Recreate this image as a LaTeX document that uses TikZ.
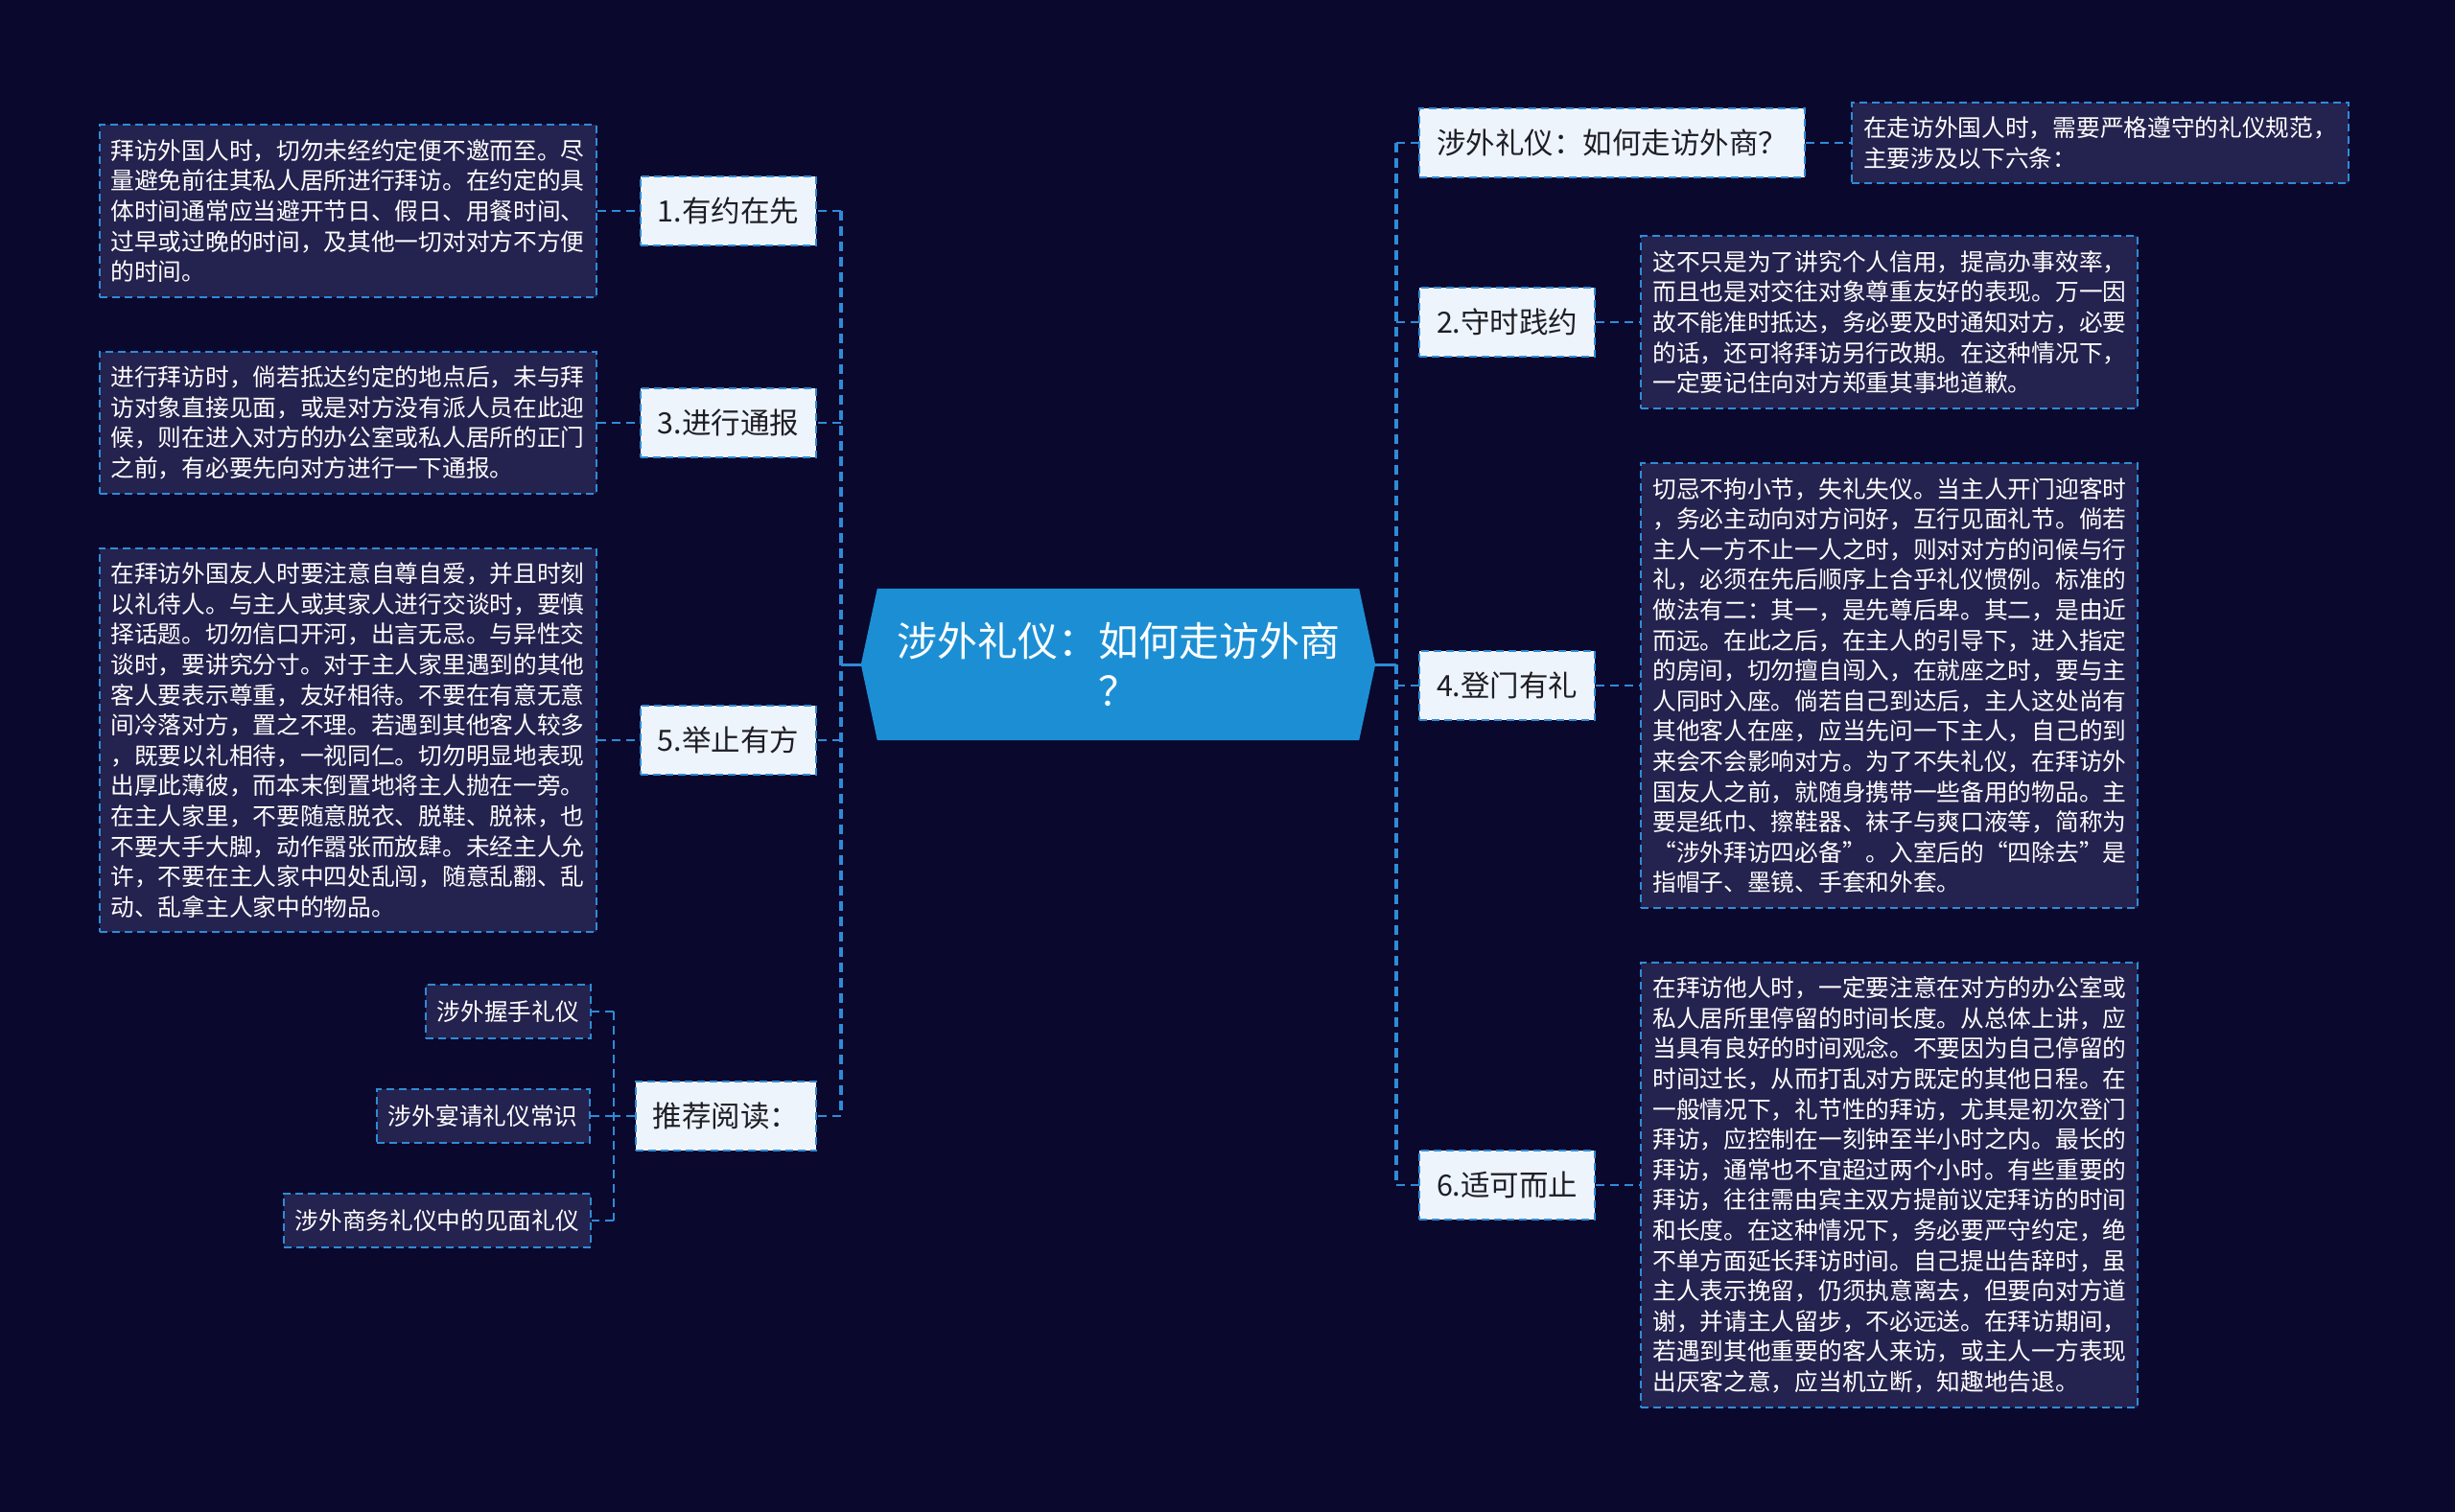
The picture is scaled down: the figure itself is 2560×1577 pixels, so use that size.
\documentclass[tikz,border=0pt]{standalone}
\usepackage{fontspec}
\setmainfont{Noto Sans CJK SC}
\usepackage{xcolor}
\usepackage{tikz}
\usetikzlibrary{positioning, backgrounds, calc}
\definecolor{bgnavy}{RGB}{11, 8, 46}
\definecolor{leafnavy}{RGB}{36, 34, 78}
\definecolor{linkblue}{RGB}{46, 140, 214}
\definecolor{hubblue}{RGB}{28, 143, 212}
\definecolor{branchwhite}{RGB}{238, 244, 252}
\definecolor{branchtext}{RGB}{30, 30, 36}

\begin{document}
\begin{tikzpicture}[x=1pt, y=-1pt,
    hub/.style={minimum width=536pt, minimum height=158pt, text=white,
                align=center, font=\fontsize{42}{52}\selectfont},
    branch/.style={draw=linkblue, fill=branchwhite, line width=2pt,
                   dash pattern=on 8pt off 5pt, text=branchtext,
                   minimum height=72pt, inner xsep=18pt,
                   font=\fontsize{30.5}{36}\selectfont},
    leaf/.style={draw=linkblue, fill=leafnavy, line width=2pt,
                 dash pattern=on 8pt off 5pt, text=white,
                 text width=494pt, align=left, inner xsep=12pt, inner ysep=15pt,
                 font=\fontsize{24.7}{31.6}\selectfont},
    sub/.style={draw=linkblue, fill=leafnavy, line width=2pt,
                dash pattern=on 8pt off 5pt, text=white,
                minimum height=56pt, inner xsep=12pt,
                font=\fontsize{24.7}{30}\selectfont},
    link/.style={draw=linkblue, line width=2.5pt, dash pattern=on 9pt off 6pt},
    trunk/.style={draw=linkblue, line width=3.5pt, dash pattern=on 10pt off 6pt},
]
\useasboundingbox (0,0) rectangle (2560,1577);

% Central topic
\node[hub] (hub) at (1166,693) {涉外礼仪：如何走访外商\\？};

% Left branches
\node[branch, anchor=east] (b1) at (852,220) {1.有约在先};
\node[branch, anchor=east] (b3) at (852,441) {3.进行通报};
\node[branch, anchor=east] (b5) at (852,772) {5.举止有方};
\node[branch, anchor=east] (bR) at (852,1164) {推荐阅读：};

\node[leaf, left=44pt of b1] (l1) {拜访外国人时，切勿未经约定便不邀而至。尽\\
量避免前往其私人居所进行拜访。在约定的具\\
体时间通常应当避开节日、假日、用餐时间、\\
过早或过晚的时间，及其他一切对对方不方便\\
的时间。};
\node[leaf, left=44pt of b3] (l3) {进行拜访时，倘若抵达约定的地点后，未与拜\\
访对象直接见面，或是对方没有派人员在此迎\\
候，则在进入对方的办公室或私人居所的正门\\
之前，有必要先向对方进行一下通报。};
\node[leaf, left=44pt of b5] (l5) {在拜访外国友人时要注意自尊自爱，并且时刻\\
以礼待人。与主人或其家人进行交谈时，要慎\\
择话题。切勿信口开河，出言无忌。与异性交\\
谈时，要讲究分寸。对于主人家里遇到的其他\\
客人要表示尊重，友好相待。不要在有意无意\\
间冷落对方，置之不理。若遇到其他客人较多\\
，既要以礼相待，一视同仁。切勿明显地表现\\
出厚此薄彼，而本末倒置地将主人抛在一旁。\\
在主人家里，不要随意脱衣、脱鞋、脱袜，也\\
不要大手大脚，动作嚣张而放肆。未经主人允\\
许，不要在主人家中四处乱闯，随意乱翻、乱\\
动、乱拿主人家中的物品。};

% Recommended reading
\node[sub, anchor=east] (s1) at (617,1055) {涉外握手礼仪};
\node[sub, left=46pt of bR] (s2) {涉外宴请礼仪常识};
\node[sub, anchor=east] (s3) at (617,1273) {涉外商务礼仪中的见面礼仪};

% Right branches
\node[branch, anchor=west] (bT) at (1479,149) {涉外礼仪：如何走访外商？};
\node[branch, anchor=west] (b2) at (1479,336) {2.守时践约};
\node[branch, anchor=west] (b4) at (1479,715) {4.登门有礼};
\node[branch, anchor=west] (b6) at (1479,1236) {6.适可而止};

\node[leaf, right=47pt of bT] (l0) {在走访外国人时，需要严格遵守的礼仪规范，\\
主要涉及以下六条：};
\node[leaf, right=46pt of b2] (l2) {这不只是为了讲究个人信用，提高办事效率，\\
而且也是对交往对象尊重友好的表现。万一因\\
故不能准时抵达，务必要及时通知对方，必要\\
的话，还可将拜访另行改期。在这种情况下，\\
一定要记住向对方郑重其事地道歉。};
\node[leaf, right=46pt of b4] (l4) {切忌不拘小节，失礼失仪。当主人开门迎客时\\
，务必主动向对方问好，互行见面礼节。倘若\\
主人一方不止一人之时，则对对方的问候与行\\
礼，必须在先后顺序上合乎礼仪惯例。标准的\\
做法有二：其一，是先尊后卑。其二，是由近\\
而远。在此之后，在主人的引导下，进入指定\\
的房间，切勿擅自闯入，在就座之时，要与主\\
人同时入座。倘若自己到达后，主人这处尚有\\
其他客人在座，应当先问一下主人，自己的到\\
来会不会影响对方。为了不失礼仪，在拜访外\\
国友人之前，就随身携带一些备用的物品。主\\
要是纸巾、擦鞋器、袜子与爽口液等，简称为\\
“涉外拜访四必备”。入室后的“四除去”是\\
指帽子、墨镜、手套和外套。};
\node[leaf, right=46pt of b6] (l6) {在拜访他人时，一定要注意在对方的办公室或\\
私人居所里停留的时间长度。从总体上讲，应\\
当具有良好的时间观念。不要因为自己停留的\\
时间过长，从而打乱对方既定的其他日程。在\\
一般情况下，礼节性的拜访，尤其是初次登门\\
拜访，应控制在一刻钟至半小时之内。最长的\\
拜访，通常也不宜超过两个小时。有些重要的\\
拜访，往往需由宾主双方提前议定拜访的时间\\
和长度。在这种情况下，务必要严守约定，绝\\
不单方面延长拜访时间。自己提出告辞时，虽\\
主人表示挽留，仍须执意离去，但要向对方道\\
谢，并请主人留步，不必远送。在拜访期间，\\
若遇到其他重要的客人来访，或主人一方表现\\
出厌客之意，应当机立断，知趣地告退。};

% Background and hub shape
\begin{scope}[on background layer]
  \fill[bgnavy] (0,0) rectangle (2560,1577);
  \fill[hubblue] (hub.west) -- ($(hub.north west)+(17,0)$) -- ($(hub.north east)+(-17,0)$)
    -- (hub.east) -- ($(hub.south east)+(-17,0)$) -- ($(hub.south west)+(17,0)$) -- cycle;
\end{scope}

% Connectors
\coordinate (ltrunk) at (877,693);
\coordinate (rtrunk) at (1456,693);
\coordinate (strunk) at (640,1164);
\draw[linkblue, line width=3pt] (hub.west) -- (ltrunk);
\draw[linkblue, line width=3pt] (hub.east) -- (rtrunk);
\draw[trunk] (ltrunk |- b1.east) -- (ltrunk |- bR.east);
\draw[trunk] (rtrunk |- bT.west) -- (rtrunk |- b6.west);
\foreach \b in {b1,b3,b5,bR}
  \draw[link] (ltrunk |- \b.east) -- (\b.east);
\foreach \b in {bT,b2,b4,b6}
  \draw[link] (rtrunk |- \b.west) -- (\b.west);
\foreach \b/\l in {b1/l1,b3/l3,b5/l5}
  \draw[link] (\l.east) -- (\b.west);
\foreach \b/\l in {bT/l0,b2/l2,b4/l4,b6/l6}
  \draw[link] (\b.east) -- (\l.west);
\draw[link] (bR.west) -- (strunk);
\draw[link] (strunk |- s1.east) -- (strunk |- s3.east);
\foreach \s in {s1,s2,s3}
  \draw[link] (strunk |- \s.east) -- (\s.east);

\end{tikzpicture}
\end{document}
